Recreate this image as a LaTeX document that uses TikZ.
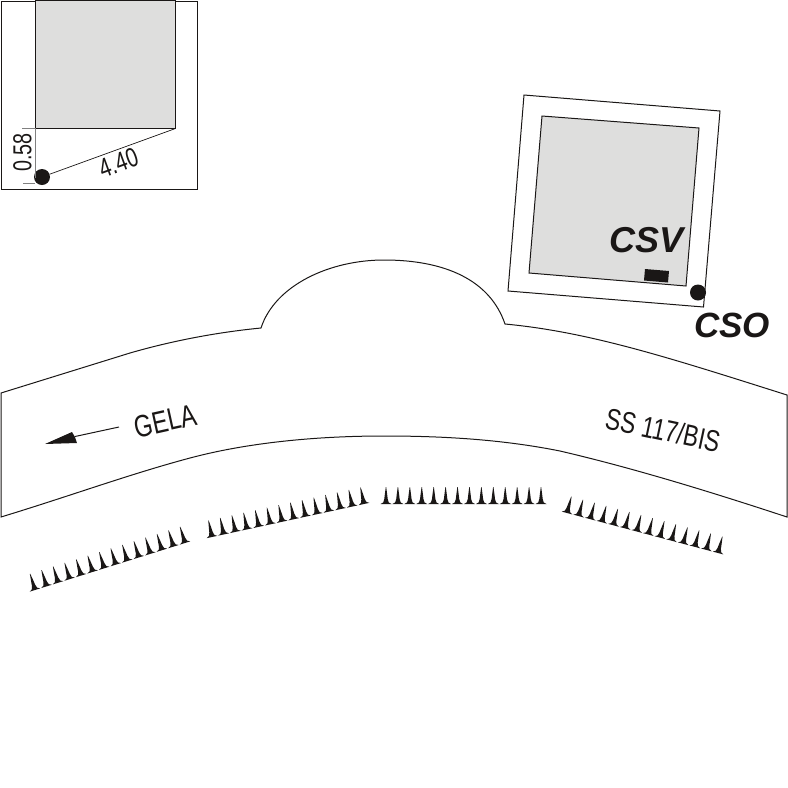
\documentclass[tikz,border=0pt]{standalone}
\usepackage{graphicx}
\usepackage{fontspec}
\setmainfont{Liberation Sans}
\definecolor{ink}{HTML}{1A1716}
\definecolor{plate}{HTML}{DEDEDD}
\newcommand{\narrowtext}[2]{\fontsize{#1}{#1}\selectfont\scalebox{0.76}[1]{#2}}
\tikzset{
  outline/.style={draw=ink,line width=1pt},
  thin line/.style={draw=ink,line width=0.7pt},
  dim line/.style={draw=gray,line width=0.8pt},
  blackdot/.style={circle,fill=ink,minimum size=16pt,inner sep=0pt},
  bold label/.style={text=ink,font=\fontsize{#1}{#1}\selectfont\bfseries\itshape,inner sep=0pt},
  plain label/.style={text=ink,inner sep=0pt},
  tilted/.style={x={(#1:1pt)},y={(#1-90:1pt)}},
  spike/.pic={\fill[ink] (-5.5,0) .. controls (-3,-0.5) and (-2,-2) .. (-1.7,-5)
     .. controls (-1.3,-9) and (-0.7,-13) .. (-0.2,-17) -- (0.2,-17)
     .. controls (0.7,-13) and (1.3,-9) .. (1.7,-5)
     .. controls (2,-2) and (3,-0.5) .. (5.5,0) -- cycle;}
}
\begin{document}
\begin{tikzpicture}[x=1pt,y=-1pt]
\useasboundingbox (0,0) rectangle (788,788);
% inset
\draw[outline] (1,1) rectangle (197,189);
\path[fill=plate,outline] (35.5,0) rectangle (175.5,128.5);
\node[blackdot] (insetdot) at (42,177) {};
\coordinate (corner) at (175.5,128.5);
\draw[thin line] (corner) -- (insetdot);
\draw[dim line] (22,128.5) -- (35.5,128.5);
\draw[dim line] (35.5,128.5) -- (35.5,178);
\draw[dim line] (23,183) -- (35,183);
\node[plain label,rotate=90] at (22.5,152.5) {\narrowtext{26}{0.58}};
\node[plain label,rotate=20] at (118.5,162.5) {\narrowtext{27}{4.40}};
% building
\path[outline] (524,95) -- (720,111) -- (703.5,307) -- (508,291) -- cycle;
\path[fill=plate,outline] (542,116) -- (699,128) -- (686,286) -- (529,273) -- cycle;
\fill[ink] (645,269) -- (669,271) -- (668,282.5) -- (644,280.5) -- cycle;
\node[blackdot] at (698,292.5) {};
\node[bold label=36] at (646.5,240) {CSV};
\node[bold label=35] at (732,325) {CSO};
% road
\path[outline,line join=miter] (1,393) -- (130,353) .. controls (175,340) and (220,332) .. (261,328)
  .. controls (275,285) and (330,260) .. (384,260)
  .. controls (445,260) and (490,280) .. (505,324)
  .. controls (590,332) and (670,358) .. (787,395)
  -- (787,517)
  .. controls (690,485) and (620,465) .. (560,451)
  .. controls (500,439) and (440,436) .. (384,436)
  .. controls (320,436) and (250,442) .. (190,458)
  .. controls (130,474) and (70,496) .. (1,517) -- cycle;
% arrow
\coordinate (arrowstart) at (119,427);
\coordinate (arrowtip) at (45,444);
\draw[ink,line width=1pt] (arrowstart) -- (75,436.5);
\fill[ink] (arrowtip) -- (72,432) -- (75,437) -- (77,443) -- cycle;
\node[plain label,rotate=12.5] at (165,421) {\narrowtext{31}{GELA}};
\node[plain label,rotate=-12] at (663,430) {\narrowtext{30}{SS 117/BIS}};
% spikes
\foreach \i in {0,...,13}{
  \pgfmathsetmacro{\t}{\i/13}
  \path ({35+\t*150},{590-\t*47}) pic[tilted=17] {spike};
  \path ({212+\t*152},{537-\t*33}) pic[tilted=12] {spike};
  \path ({386+\t*155},{504}) pic {spike};
  \path ({567+\t*151},{513+\t*40}) pic[tilted=-15] {spike};
}
\end{tikzpicture}
\end{document}
